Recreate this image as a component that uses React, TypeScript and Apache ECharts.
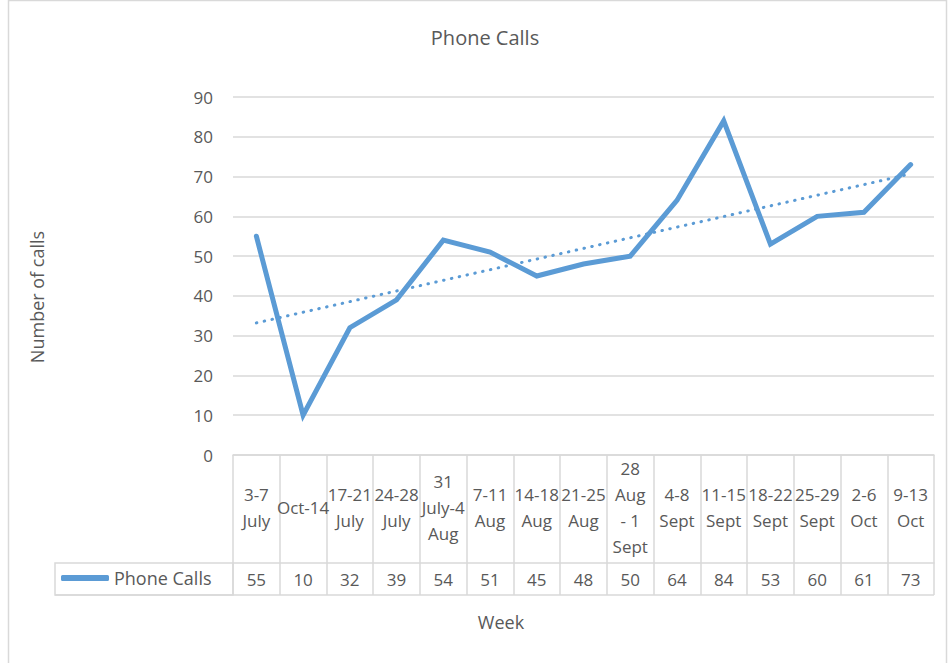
import React, { useEffect, useRef } from "react";
import * as echarts from "echarts";

const categories = [
  "3-7\nJuly", "Oct-14", "17-21\nJuly", "24-28\nJuly", "31\nJuly-4\nAug",
  "7-11\nAug", "14-18\nAug", "21-25\nAug", "28\nAug\n- 1\nSept", "4-8\nSept",
  "11-15\nSept", "18-22\nSept", "25-29\nSept", "2-6\nOct", "9-13\nOct",
];
const phoneCalls = [55, 10, 32, 39, 54, 51, 45, 48, 50, 64, 84, 53, 60, 61, 73];
const yTicks = [0, 10, 20, 30, 40, 50, 60, 70, 80, 90];

// Linear trendline (least squares), as Excel computes it
function linearTrend(vals: number[]): number[] {
  const n = vals.length;
  const xs = vals.map((_, i) => i + 1);
  const mx = xs.reduce((a, b) => a + b, 0) / n;
  const my = vals.reduce((a, b) => a + b, 0) / n;
  let sxy = 0, sxx = 0;
  for (let i = 0; i < n; i++) {
    sxy += (xs[i] - mx) * (vals[i] - my);
    sxx += (xs[i] - mx) * (xs[i] - mx);
  }
  const b = sxy / sxx;
  const a = my - b * mx;
  return xs.map((x) => a + b * x);
}

const FONT = "'Open Sans', sans-serif";
const TXT = "#595959";
const GRID = "#d9d9d9";
const BLUE = "#5b9bd5";

export default function App() {
  const ref = useRef<HTMLDivElement>(null);
  useEffect(() => {
    if (!ref.current) return;
    const chart = echarts.init(ref.current, undefined, { renderer: "svg" });
    const trend = linearTrend(phoneCalls);
    chart.setOption({
      animation: false,
      backgroundColor: "#ffffff",
      textStyle: { fontFamily: FONT, color: TXT },
      title: {
        text: "Phone Calls",
        left: 480,
        textAlign: "center",
        top: 22,
        textStyle: { fontFamily: FONT, fontSize: 20, fontWeight: "normal", color: TXT },
      },
      legend: {
        data: [{ name: "Phone Calls", icon: "roundRect" }],
        left: 56,
        top: 564,
        itemWidth: 48,
        itemHeight: 6,
        itemGap: 5,
        itemStyle: { color: BLUE, borderWidth: 0 },
        lineStyle: { width: 0 },
        textStyle: { fontFamily: FONT, fontSize: 18, color: TXT },
      },
      grid: { left: 233, right: 14, top: 97, bottom: 208, containLabel: false },
      xAxis: [
        {
          type: "category",
          data: categories,
          boundaryGap: true,
          position: "bottom",
          axisLine: { show: true, lineStyle: { color: GRID, width: 1.5 } },
          axisTick: { show: true, interval: 0, length: 140, lineStyle: { color: GRID, width: 1.5 } },
          axisLabel: {
            interval: 0,
            hideOverlap: false,
            margin: 52,
            verticalAlign: "middle",
            lineHeight: 26,
            fontFamily: FONT,
            fontSize: 17,
            color: TXT,
          },
        },
        {
          type: "category",
          data: phoneCalls.map((v) => String(v)),
          boundaryGap: true,
          position: "bottom",
          offset: 108,
          axisLine: { show: true, lineStyle: { color: GRID, width: 1.5 } },
          axisTick: { show: false },
          axisLabel: {
            interval: 0,
            margin: 16,
            verticalAlign: "middle",
            fontFamily: FONT,
            fontSize: 17,
            color: TXT,
          },
        },
      ],
      yAxis: {
        type: "value",
        min: 0,
        max: 90,
        interval: 10,
        axisLine: { show: false },
        axisTick: { show: false },
        splitLine: { show: true, lineStyle: { color: GRID, width: 1.5 } },
        axisLabel: {
          margin: 20,
          fontFamily: FONT,
          fontSize: 17,
          color: TXT,
          formatter: (v: number) => (yTicks.includes(v) ? String(v) : ""),
        },
      },
      series: [
        {
          name: "Phone Calls",
          type: "line",
          data: phoneCalls,
          xAxisIndex: 0,
          symbol: "none",
          showSymbol: false,
          color: BLUE,
          lineStyle: { color: BLUE, width: 5, cap: "round", join: "miter" },
          z: 3,
        },
        {
          name: "Trend",
          type: "line",
          data: trend,
          xAxisIndex: 0,
          symbol: "none",
          showSymbol: false,
          color: BLUE,
          lineStyle: { color: BLUE, width: 3, type: [0.5, 7.5], cap: "round" },
          z: 2,
        },
      ],
      graphic: [
        {
          type: "rect",
          shape: { x: 8.5, y: 0.5, width: 938, height: 680 },
          style: { fill: "none", stroke: GRID, lineWidth: 1.5 },
          silent: true,
          z: -1,
        },
        {
          type: "rect",
          shape: { x: 55, y: 563, width: 178, height: 32 },
          style: { fill: "none", stroke: GRID, lineWidth: 1.5 },
          silent: true,
        },
        {
          type: "line",
          shape: { x1: 55, y1: 595, x2: 934, y2: 595 },
          style: { stroke: GRID, lineWidth: 1.5 },
          silent: true,
        },
        {
          type: "text",
          x: 501,
          y: 622,
          style: {
            text: "Week",
            fontFamily: FONT,
            fontSize: 18,
            fill: TXT,
            align: "center",
            verticalAlign: "middle",
          },
          silent: true,
        },
        {
          type: "text",
          x: 37,
          y: 297,
          rotation: Math.PI / 2,
          style: {
            text: "Number of calls",
            fontFamily: FONT,
            fontSize: 18,
            fill: TXT,
            align: "center",
            verticalAlign: "middle",
          },
          silent: true,
        },
      ],
    });
    return () => chart.dispose();
  }, []);
  return (
    <div
      ref={ref}
      style={{ position: "fixed", left: 0, top: 0, width: 948, height: 663 }}
    />
  );
}
